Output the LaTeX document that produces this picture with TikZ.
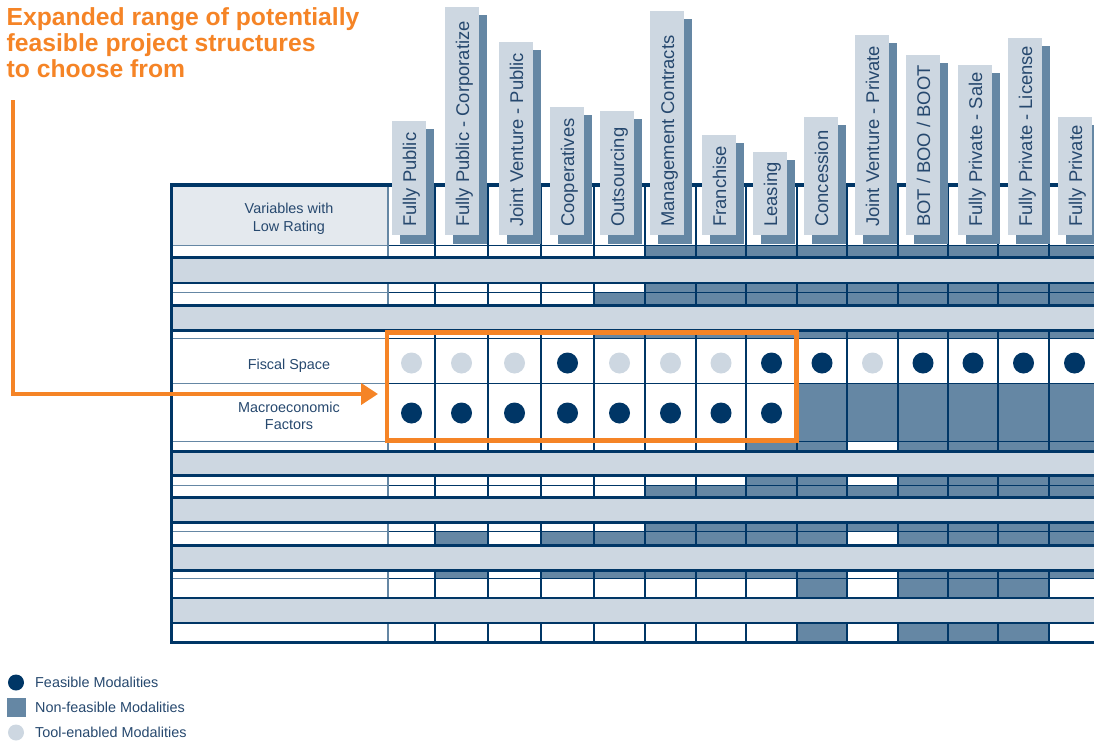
\documentclass[tikz,border=0pt]{standalone}
\usepackage{fontspec}
\setmainfont{Liberation Sans}
\usetikzlibrary{arrows.meta}
\definecolor{navy}{RGB}{0,54,102}
\definecolor{steel}{RGB}{101,135,164}
\definecolor{pale}{RGB}{205,215,225}
\definecolor{paler}{RGB}{228,233,238}
\definecolor{ink}{RGB}{38,72,110}
\definecolor{accent}{RGB}{245,132,38}
\begin{document}
\begin{tikzpicture}[x=1pt, y=-1pt]
\useasboundingbox (0,0) rectangle (1094,744);
\tikzstyle{every node} = [inner sep=0pt, text=ink, font=\fontsize{14.4}{17}\selectfont]
\tikzstyle{feasible} = [circle, fill=navy, minimum size=21pt]
\tikzstyle{enabled} = [circle, fill=pale, minimum size=21pt]
\tikzstyle{modality} = [rotate=90, anchor=base west, font=\fontsize{18.4}{20}\selectfont]
\def\colx{{388,435,488,541,594,645,696,746,797,847,898,948,998,1049,1100}}
% header cell
\fill[paler] (173,186) rectangle (388,245);
% non-feasible cells
\foreach \ya/\yb/\cols in {245/257.5/{6,...,14}, 283/292/{6,...,14}, 292/305.5/{5,...,14},
	330.5/338/{5,...,14}, 383/441/{9,...,14}, 441/451.5/{8,9,11,12,13,14},
	475.5/485/{8,9,11,12,13,14}, 485/497.5/{6,...,14}, 522.5/531/{6,...,14},
	531/545.5/{2,4,5,6,7,8,9,11,12,13,14}, 570.5/578/{2,4,5,6,7,8,9,11,12,13,14},
	578/598/{9,11,12,13}, 623/642/{9,11,12,13}}
	\foreach \c in \cols {
		\pgfmathsetmacro\xa{\colx[\c-1]}
		\pgfmathsetmacro\xb{\colx[\c]}
		\fill[steel] (\xa,\ya) rectangle (\xb,\yb);
	}
% row and column rules
\foreach \y in {245,292,338,383,441,485,531,578} {
	\draw[steel, line width=1pt] (173,\y) -- (388,\y);
	\draw[navy, line width=1pt] (388,\y) -- (1094,\y);
}
\draw[steel, line width=1.2pt] (388,185) -- (388,642);
\foreach \x in {435,488,541,594,645,696,746,797,847,898,948,998,1049}
	\draw[navy, line width=1.2pt] (\x,185) -- (\x,642);
% grey bands
\foreach \ya/\yb in {257.5/283, 305.5/330.5, 451.5/475.5, 497.5/522.5, 545.5/570.5, 598/623} {
	\fill[pale] (173,\ya) rectangle (1094,\yb);
	\draw[navy, line width=2.5pt] (173,\ya) -- (1094,\ya)
		(173,\yb) -- (1094,\yb);
}
\draw[navy, line width=3.5pt] (1094,185) -- (171.5,185) -- (171.5,642.5) -- (1094,642.5);
\node[align=center, font=\fontsize{14.4}{18}\selectfont] (var) at (289,219) {Variables with\\Low Rating};
% modality tabs
\foreach \l/\t/\name [count=\i] in {392/121/Fully Public, 445/7/Fully Public - Corporatize,
	499/42/Joint Venture - Public, 550/107/Cooperatives, 600/111/Outsourcing,
	650/11/Management Contracts, 702/135/Franchise, 753/152/Leasing, 804/117/Concession,
	855/35/Joint Venture - Private, 906/55/{BOT / BOO / BOOT}, 958/65/Fully Private - Sale,
	1008/38/Fully Private - License, 1058/117/Fully Private} {
	\fill[steel] (\l+8,\t+8) rectangle (\l+42,244);
	\fill[pale] (\l,\t) rectangle (\l+34,235);
	\node[modality] (mod\i) at (\l+24,227) {\name};
}
% rated variables
\node[anchor=base] (fiscal) at (289,369) {Fiscal Space};
\node[align=center, font=\fontsize{14.4}{16.5}\selectfont] (macro) at (289,416) {Macroeconomic\\Factors};
\foreach \x/\s [count=\i] in {411.5/enabled, 461.5/enabled, 514.5/enabled, 567.5/feasible,
	619.5/enabled, 670.5/enabled, 721/enabled, 771.5/feasible, 822/feasible, 872.5/enabled,
	923/feasible, 973/feasible, 1023.5/feasible, 1074.5/feasible}
	\node[\s] (fs\i) at (\x,363) {};
\foreach \x [count=\i] in {411.5,461.5,514.5,567.5,619.5,670.5,721,771.5}
	\node[feasible] (mf\i) at (\x,413) {};
% highlight
\node[draw=accent, line width=4.5pt, minimum width=409.5pt, minimum height=108pt] (focus) at (591.75,386.5) {};
\node[anchor=north west, align=left, text=accent, font=\fontsize{24.7}{26.3}\selectfont\bfseries] (title) at (6.5,7) {Expanded range of potentially\\feasible project structures\\to choose from};
\coordinate (start) at (12.5,100);
\coordinate (tip) at (378,394);
\draw[accent, line width=4pt, -{Triangle[length=17pt, width=21pt]}] (start) |- (tip);
% legend
\node[feasible, minimum size=16pt] (kf) at (16,682.5) {};
\node[fill=steel, minimum size=19pt] (kn) at (16.5,707.5) {};
\node[enabled, minimum size=16pt] (ke) at (16,732.5) {};
\node[anchor=base west] (kft) at (35,687.3) {Feasible Modalities};
\node[anchor=base west] (knt) at (35,712.3) {Non-feasible Modalities};
\node[anchor=base west] (ket) at (35,737.3) {Tool-enabled Modalities};
\end{tikzpicture}
\end{document}
